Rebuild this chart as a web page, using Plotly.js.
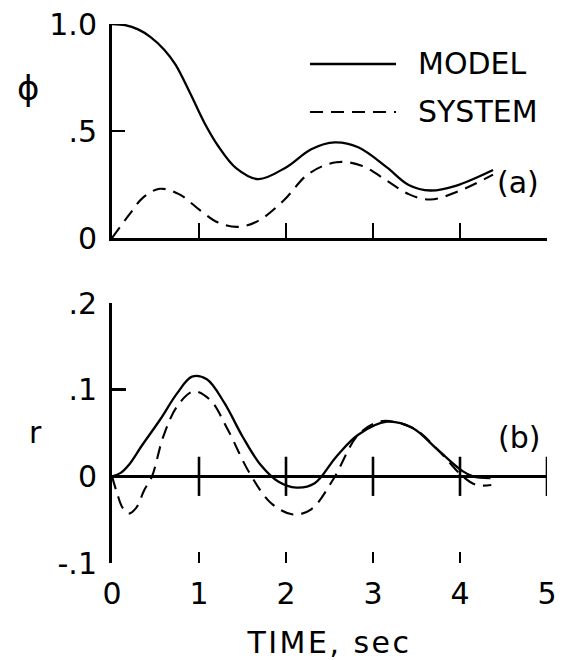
<!DOCTYPE html>
<html>
<head>
<meta charset="utf-8">
<script src="https://cdn.plot.ly/plotly-3.0.1.min.js"></script>
<style>
  html, body { margin: 0; padding: 0; background: #fff; }
  #chart { width: 562px; height: 660px; }
  .g-x2title text { letter-spacing: 2.5px; }
</style>
</head>
<body>
<div id="chart"></div>
<script>
// ---- Data ----
// Panel (a): phi vs time
const tModelA = [0, 0.15, 0.3, 0.44, 0.6, 0.73, 0.9, 1.06, 1.22, 1.43, 1.68, 2.0, 2.29, 2.56, 2.83, 3.16, 3.41, 3.66, 3.95, 4.38];
const phiModel = [1.0, 0.995, 0.975, 0.94, 0.88, 0.81, 0.675, 0.54, 0.43, 0.325, 0.275, 0.33, 0.415, 0.447, 0.424, 0.33, 0.248, 0.222, 0.244, 0.318];
const tSystemA = [0, 0.2, 0.36, 0.55, 0.77, 1.02, 1.22, 1.45, 1.68, 1.97, 2.26, 2.58, 2.87, 3.16, 3.41, 3.66, 3.99, 4.38];
const phiSystem = [0, 0.11, 0.19, 0.23, 0.205, 0.127, 0.072, 0.052, 0.08, 0.174, 0.30, 0.354, 0.338, 0.268, 0.205, 0.18, 0.22, 0.296];

// Panel (b): r vs time
const tModelB = [0, 0.1, 0.2, 0.34, 0.55, 0.75, 0.92, 1.09, 1.29, 1.5, 1.71, 1.91, 2.12, 2.33, 2.58, 2.83, 3.16, 3.45, 3.74, 4.03, 4.15, 4.35];
const rModel = [0, 0.004, 0.014, 0.035, 0.065, 0.096, 0.115, 0.112, 0.085, 0.046, 0.013, -0.006, -0.013, -0.008, 0.023, 0.048, 0.063, 0.056, 0.031, 0.006, 0.0, -0.002];
const tSystemB = [0, 0.06, 0.12, 0.19, 0.28, 0.37, 0.46, 0.59, 0.75, 0.94, 1.13, 1.33, 1.58, 1.83, 2.08, 2.29, 2.54, 2.83, 3.07, 3.24, 3.49, 3.78, 4.03, 4.19, 4.36];
const rSystem = [0, -0.02, -0.036, -0.043, -0.036, -0.016, 0, 0.046, 0.081, 0.098, 0.088, 0.054, 0.004, -0.031, -0.044, -0.038, -0.004, 0.048, 0.063, 0.063, 0.054, 0.027, 0, -0.01, -0.01];

// Axis ticks / labels
const timeTicks = [0, 1, 2, 3, 4, 5];
const timeTickText = ['0', '1', '2', '3', '4', '5'];
const phiTicks = [0, 0.5, 1.0];
const phiTickText = ['0', '.5', '1.0'];
const rTicks = [-0.1, 0, 0.1, 0.2];
const rTickText = ['-.1', '0', '.1', '.2'];
const crossTickX = [1, 2, 3, 4, 5];
const crossTickY = [0, 0, 0, 0, 0];

const seriesNames = ['MODEL', 'SYSTEM'];

// ---- Figure ----
const W = 562, H = 660;
const FONT = 'DejaVu Sans, sans-serif';
const px = v => v / W;
const py = v => (H - v) / H;

const solid = {color: '#000', width: 2.3, shape: 'spline', smoothing: 1};
const dashed = {color: '#000', width: 2.1, shape: 'spline', smoothing: 1, dash: '13px,8px'};

const traces = [
  {x: tModelA, y: phiModel, xaxis: 'x', yaxis: 'y', mode: 'lines', line: solid, name: seriesNames[0], showlegend: false, hoverinfo: 'skip'},
  {x: tSystemA, y: phiSystem, xaxis: 'x', yaxis: 'y', mode: 'lines', line: dashed, name: seriesNames[1], showlegend: false, hoverinfo: 'skip'},
  {x: tModelB, y: rModel, xaxis: 'x2', yaxis: 'y2', mode: 'lines', line: solid, name: seriesNames[0], showlegend: false, hoverinfo: 'skip'},
  {x: tSystemB, y: rSystem, xaxis: 'x2', yaxis: 'y2', mode: 'lines', line: dashed, name: seriesNames[1], showlegend: false, hoverinfo: 'skip'},
  {x: crossTickX, y: crossTickY, xaxis: 'x2', yaxis: 'y2', mode: 'markers', showlegend: false, hoverinfo: 'skip',
   marker: {symbol: 'line-ns', size: 28, color: '#000', line: {color: '#000', width: 2.6}}}
];

const xDomain = [px(112), px(547)];
const axisCommon = {
  showgrid: false, zeroline: false, showline: true, linecolor: '#000', linewidth: 3,
  ticks: 'inside', tickcolor: '#000', tickwidth: 2.6, automargin: false,
  tickfont: {family: FONT, size: 30, color: '#000'}, fixedrange: true
};

const layout = {
  width: W, height: H,
  margin: {l: 0, r: 0, t: 0, b: 0},
  paper_bgcolor: '#fff', plot_bgcolor: 'rgba(0,0,0,0)',
  showlegend: false,
  font: {family: FONT, size: 30, color: '#000'},
  xaxis: Object.assign({}, axisCommon, {
    domain: xDomain, anchor: 'y', range: [0, 5],
    tickvals: crossTickX, ticklen: 15, showticklabels: false
  }),
  yaxis: Object.assign({}, axisCommon, {
    domain: [py(238), py(24)], anchor: 'x', range: [0, 1],
    tickvals: phiTicks, ticktext: phiTickText, ticklen: 13, ticklabelstandoff: 6
  }),
  xaxis2: Object.assign({}, axisCommon, {
    domain: xDomain, anchor: 'y2', range: [0, 5], showline: false,
    tickvals: timeTicks, ticktext: timeTickText, ticklen: 11, ticklabelstandoff: 10,
    title: {text: 'TIME, sec', font: {family: FONT, size: 30, color: '#000'}, standoff: 26}
  }),
  yaxis2: Object.assign({}, axisCommon, {
    domain: [py(563), py(303)], anchor: 'x2', range: [-0.1, 0.2],
    tickvals: rTicks, ticktext: rTickText, ticklen: 14, ticklabelstandoff: 6,
    zeroline: true, zerolinecolor: '#000', zerolinewidth: 2.6
  }),
  shapes: [
    {type: 'line', xref: 'paper', yref: 'paper', x0: px(310), x1: px(396), y0: py(64), y1: py(64), line: {color: '#000', width: 2.3}},
    {type: 'line', xref: 'paper', yref: 'paper', x0: px(310), x1: px(396), y0: py(112), y1: py(112), line: {color: '#000', width: 2.1, dash: '13px,8px'}}
  ],
  annotations: [
    {text: seriesNames[0], xref: 'paper', yref: 'paper', x: px(416), y: py(64), xanchor: 'left', yanchor: 'middle', showarrow: false, font: {family: FONT, size: 30, color: '#000'}},
    {text: seriesNames[1], xref: 'paper', yref: 'paper', x: px(416), y: py(112), xanchor: 'left', yanchor: 'middle', showarrow: false, font: {family: FONT, size: 30, color: '#000'}},
    {text: '\u03D5', xref: 'paper', yref: 'paper', x: px(28), y: py(88), xanchor: 'center', yanchor: 'middle', showarrow: false, font: {family: FONT, size: 34, color: '#000'}},
    {text: 'r', xref: 'paper', yref: 'paper', x: px(35), y: py(432), xanchor: 'center', yanchor: 'middle', showarrow: false, font: {family: FONT, size: 30, color: '#000'}},
    {text: '(a)', xref: 'paper', yref: 'paper', x: px(518), y: py(183), xanchor: 'center', yanchor: 'middle', showarrow: false, font: {family: FONT, size: 30, color: '#000'}},
    {text: '(b)', xref: 'paper', yref: 'paper', x: px(519), y: py(437), xanchor: 'center', yanchor: 'middle', showarrow: false, font: {family: FONT, size: 30, color: '#000'}}
  ]
};

Plotly.newPlot('chart', traces, layout, {displayModeBar: false, staticPlot: true});
</script>
</body>
</html>
